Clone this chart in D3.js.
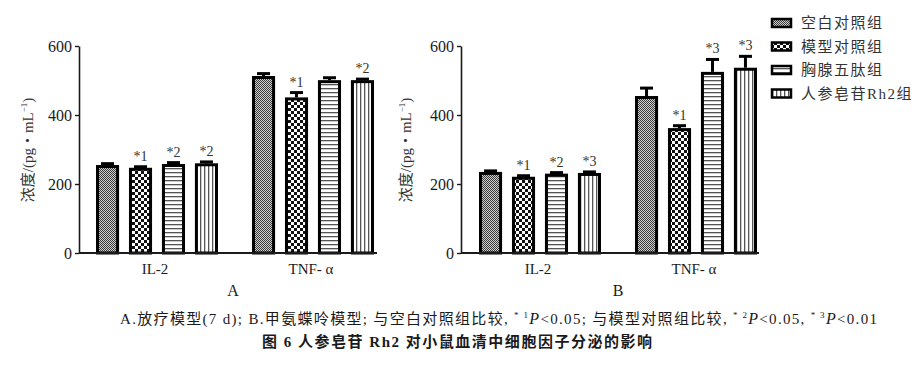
<!DOCTYPE html>
<html>
<head>
<meta charset="utf-8">
<script src="https://cdn.jsdelivr.net/npm/d3@7"></script>
<style>
  body { margin: 0; background: #fff; }
  svg { display: block; }
</style>
</head>
<body>
<svg id="chart" width="916" height="374"></svg>
<script>
// Categories and series
var groups = ['IL-2', 'TNF- α'];
var seriesNames = ['空白对照组', '模型对照组', '胸腺五肽组', '人参皂苷Rh2组'];
var yTicks = [0, 200, 400, 600];

// Panel A: radiotherapy model (rows = groups, columns = series)
var valuesA = [[255, 247, 258, 260], [513, 451, 501, 501]];
var errorsA = [[4, 3, 4, 4], [7, 14, 7, 3]];
var marksA = [['', '*1', '*2', '*2'], ['', '*1', '', '*2']];

// Panel B: methotrexate model
var valuesB = [[235, 221, 230, 232], [455, 362, 525, 537]];
var errorsB = [[3, 3, 3, 3], [23, 7, 36, 33]];
var marksB = [['', '*1', '*2', '*3'], ['', '*1', '*3', '*3']];

var svg = d3.select('#chart');
var defs = svg.append('defs');
var ink = '#1a1a1a';
var serif = '"Liberation Serif", "Noto Sans CJK SC", serif';

/**
 * Fill patterns, one per series
 */
function makePatterns() {
  // fine grey halftone
  var p0 = defs.append('pattern').attr('id', 'pat0')
    .attr('patternUnits', 'userSpaceOnUse').attr('width', 2).attr('height', 2);
  p0.append('rect').attr('width', 2).attr('height', 2).attr('fill', '#d0d0d0');
  p0.append('rect').attr('width', 1).attr('height', 1).attr('fill', '#3a3a3a');
  p0.append('rect').attr('x', 1).attr('y', 1).attr('width', 1).attr('height', 1).attr('fill', '#3a3a3a');

  // coarse checkerboard
  var p1 = defs.append('pattern').attr('id', 'pat1')
    .attr('patternUnits', 'userSpaceOnUse').attr('width', 6).attr('height', 6);
  p1.append('rect').attr('width', 6).attr('height', 6).attr('fill', '#fff');
  p1.append('rect').attr('width', 3).attr('height', 3).attr('fill', '#111');
  p1.append('rect').attr('x', 3).attr('y', 3).attr('width', 3).attr('height', 3).attr('fill', '#111');

  // horizontal lines
  var p2 = defs.append('pattern').attr('id', 'pat2')
    .attr('patternUnits', 'userSpaceOnUse').attr('width', 4).attr('height', 4);
  p2.append('rect').attr('width', 4).attr('height', 4).attr('fill', '#fff');
  p2.append('rect').attr('width', 4).attr('height', 1.3).attr('fill', '#555');

  // vertical lines
  var p3 = defs.append('pattern').attr('id', 'pat3')
    .attr('patternUnits', 'userSpaceOnUse').attr('width', 4).attr('height', 4);
  p3.append('rect').attr('width', 4).attr('height', 4).attr('fill', '#fff');
  p3.append('rect').attr('width', 1.3).attr('height', 4).attr('fill', '#555');
}
makePatterns();

/**
 * Draws one bar-chart panel with its axes, bars, error bars and marks
 */
function drawPanel(opt) {
  var g = svg.append('g').attr('font-family', serif);

  var y = d3.scaleLinear().domain([0, 600]).range([253, 46]);

  var x = d3.scaleBand().domain(groups)
    .range(opt.barRange).paddingInner(0.218).paddingOuter(0);

  var xs = d3.scaleBand().domain(d3.range(seriesNames.length))
    .range([0, x.bandwidth()]).paddingInner(0.3).paddingOuter(0);

  var sw = 3;

  groups.forEach(function(grp, gi) {
    var gx = x(grp);
    seriesNames.forEach(function(s, si) {
      var v = opt.values[gi][si];
      var e = opt.errors[gi][si];
      var bx = gx + xs(si);
      var cx = bx + xs.bandwidth() / 2;

      // error bar (drawn first, bar outline covers its base)
      g.append('line')
        .attr('x1', cx).attr('x2', cx)
        .attr('y1', y(v)).attr('y2', y(v + e))
        .attr('stroke', '#000').attr('stroke-width', sw);
      g.append('line')
        .attr('x1', cx - 6.5).attr('x2', cx + 6.5)
        .attr('y1', y(v + e)).attr('y2', y(v + e))
        .attr('stroke', '#000').attr('stroke-width', sw);

      g.append('rect')
        .attr('x', bx + sw / 2)
        .attr('y', y(v) + sw / 2)
        .attr('width', xs.bandwidth() - sw)
        .attr('height', y(0) - y(v) - sw / 2)
        .attr('fill', 'url(#pat' + si + ')')
        .attr('stroke', '#000')
        .attr('stroke-width', sw);

      var m = opt.marks[gi][si];
      if (m) {
        g.append('text')
          .attr('x', cx).attr('y', y(v + e) - 6)
          .attr('text-anchor', 'middle')
          .attr('font-size', 14).attr('fill', '#333')
          .text(m);
      }
    });

    // category label
    g.append('text')
      .attr('x', gx + x.bandwidth() / 2 - 2).attr('y', 274)
      .attr('text-anchor', 'middle')
      .attr('font-size', 15).attr('fill', ink)
      .text(grp);
  });

  // y axis
  var axis = g.append('g')
    .attr('transform', 'translate(' + opt.axisX + ',0)')
    .call(d3.axisLeft(y).tickValues(yTicks).tickSize(4).tickPadding(3).tickSizeOuter(0))
    .attr('font-family', serif).attr('font-size', 16);
  axis.select('.domain').attr('stroke', ink).attr('stroke-width', 1.6);
  axis.selectAll('.tick line').attr('stroke', ink).attr('stroke-width', 1.4);
  axis.selectAll('.tick text').attr('fill', ink);

  // x axis baseline
  g.append('line')
    .attr('x1', opt.axisX).attr('x2', opt.axisEnd)
    .attr('y1', y(0)).attr('y2', y(0))
    .attr('stroke', ink).attr('stroke-width', 2);

  // y axis title
  var t = g.append('text')
    .attr('transform', 'translate(' + opt.titleX + ',150) rotate(-90)')
    .attr('text-anchor', 'middle')
    .attr('font-size', 15).attr('fill', '#333');
  t.append('tspan').text('浓度/(pg・mL');
  t.append('tspan').attr('font-size', 9).attr('dy', -6).text('−1');
  t.append('tspan').attr('dy', 6).text(')');

  // panel letter
  g.append('text')
    .attr('x', opt.letterX).attr('y', 296)
    .attr('text-anchor', 'middle')
    .attr('font-size', 16).attr('fill', ink)
    .text(opt.letter);
}

drawPanel({
  values: valuesA, errors: errorsA, marks: marksA,
  axisX: 79, axisEnd: 377, barRange: [96, 374],
  titleX: 33, letterX: 233, letter: 'A'
});

drawPanel({
  values: valuesB, errors: errorsB, marks: marksB,
  axisX: 461, axisEnd: 759, barRange: [479, 757],
  titleX: 411, letterX: 618, letter: 'B'
});

// legend
var legend = svg.append('g').attr('font-family', serif);
seriesNames.forEach(function(s, i) {
  var ly = 23 + i * 23.5;
  legend.append('rect')
    .attr('x', 772).attr('y', ly - 4)
    .attr('width', 19).attr('height', 8)
    .attr('fill', 'url(#pat' + i + ')')
    .attr('stroke', '#000').attr('stroke-width', 2.5);
  legend.append('text')
    .attr('x', 801).attr('y', ly + 5)
    .attr('font-size', 15).attr('letter-spacing', 1.5).attr('fill', '#333')
    .text(s);
});

// caption
var cap = svg.append('text').attr('font-family', serif)
  .attr('x', 120).attr('y', 324)
  .attr('font-size', 15).attr('fill', ink)
  .attr('textLength', 757).attr('lengthAdjust', 'spacing');
cap.append('tspan').text('A.放疗模型(7 d); B.甲氨蝶呤模型; 与空白对照组比较, ');
cap.append('tspan').attr('font-size', 9).attr('dy', -6).text('* 1');
cap.append('tspan').attr('dy', 6).attr('font-style', 'italic').attr('font-size', 16).text('P');
cap.append('tspan').attr('font-size', 15).text('<0.05; 与模型对照组比较, ');
cap.append('tspan').attr('font-size', 9).attr('dy', -6).text('* 2');
cap.append('tspan').attr('dy', 6).attr('font-style', 'italic').attr('font-size', 16).text('P');
cap.append('tspan').attr('font-size', 15).text('<0.05, ');
cap.append('tspan').attr('font-size', 9).attr('dy', -6).text('* 3');
cap.append('tspan').attr('dy', 6).attr('font-style', 'italic').attr('font-size', 16).text('P');
cap.append('tspan').attr('font-size', 15).text('<0.01');

svg.append('text').attr('font-family', serif)
  .attr('x', 262).attr('y', 347)
  .attr('font-size', 15).attr('font-weight', 'bold').attr('fill', ink)
  .attr('textLength', 390).attr('lengthAdjust', 'spacing')
  .text('图 6   人参皂苷 Rh2 对小鼠血清中细胞因子分泌的影响');
</script>
</body>
</html>
